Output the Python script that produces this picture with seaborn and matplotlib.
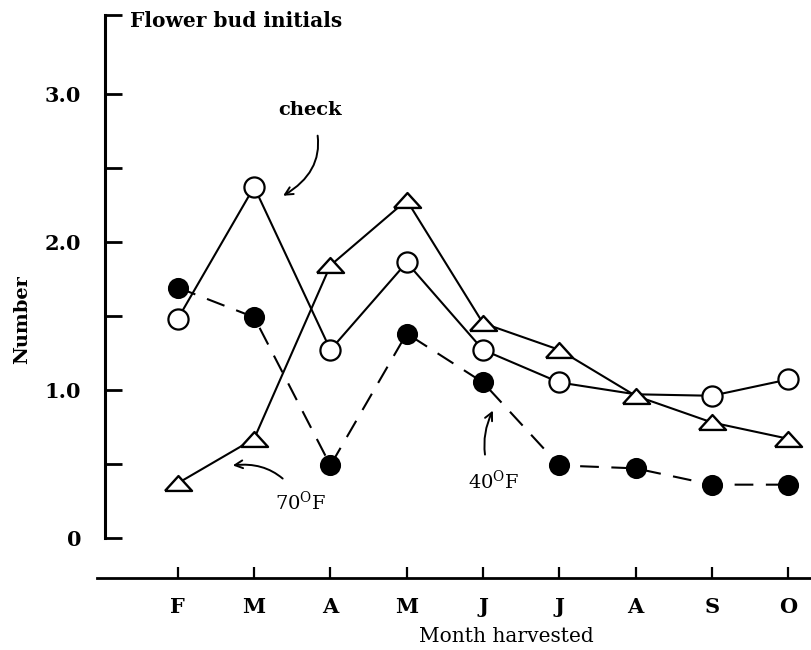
import matplotlib
matplotlib.use("Agg")
import matplotlib.pyplot as plt
import numpy as np
import pandas as pd
import seaborn as sns

# month harvested (Feb .. Oct) and the letters printed under the axis
months = ["Feb", "Mar", "Apr", "May", "Jun", "Jul", "Aug", "Sep", "Oct"]
month_letters = ["F", "M", "A", "M", "J", "J", "A", "S", "O"]

# number of flower bud initials
check = [1.48, 2.37, 1.27, 1.86, 1.27, 1.05, 0.97, 0.96, 1.07]
temp_70f = [0.37, 0.67, 1.84, 2.28, 1.45, 1.27, 0.96, 0.78, 0.67]
temp_40f = [1.69, 1.49, 0.49, 1.38, 1.05, 0.49, 0.47, 0.36, 0.36]

y_ticks = [0, 1, 2, 3]
y_tick_labels = ["0", "1.0", "2.0", "3.0"]

sns.set_theme(style="ticks")
plt.rcParams["font.family"] = ["DejaVu Serif"]
plt.rcParams["mathtext.fontset"] = "dejavuserif"
for key in ["text.color", "axes.labelcolor", "xtick.color", "ytick.color",
            "axes.edgecolor"]:
    plt.rcParams[key] = "black"

pos = np.arange(len(months))
df = pd.DataFrame({"month": months, "pos": pos, "check": check,
                   "70F": temp_70f, "40F": temp_40f})

fig = plt.figure(figsize=(8.11, 6.5), dpi=100)
ax = fig.add_axes([97 / 811, 72 / 650, 714 / 811, 563 / 650])

# flattened triangle like the hand-drawn one
tri = [(-1, -0.55), (1, -0.55), (0, 0.55), (-1, -0.55)]

sns.lineplot(data=df, x="pos", y="40F", ax=ax, color="black", lw=1.5,
             linestyle=(0, (9, 6)), marker="o", markersize=14,
             markerfacecolor="black", markeredgecolor="black", markeredgewidth=1.2)
# the Aug check point sits under the 70F triangle, so no circle there
sns.lineplot(data=df, x="pos", y="check", ax=ax, color="black", lw=1.5,
             marker="o", markersize=14.5, markerfacecolor="white",
             markeredgecolor="black", markeredgewidth=1.6,
             markevery=[0, 1, 2, 3, 4, 5, 7, 8])
sns.lineplot(data=df, x="pos", y="70F", ax=ax, color="black", lw=1.5,
             marker=tri, markersize=19.5, markerfacecolor="white",
             markeredgecolor="black", markeredgewidth=1.7)

ax.set_xlim(-1.06, 8.30)
ax.set_ylim(-0.27, 3.53)

for s in ["top", "right"]:
    ax.spines[s].set_visible(False)
ax.spines["left"].set_position(("data", -0.957))
ax.spines["left"].set_bounds(0, 3.53)
ax.spines["left"].set_linewidth(2.2)
ax.spines["bottom"].set_linewidth(2.0)

ax.set_yticks(y_ticks)
ax.set_yticklabels(y_tick_labels, fontsize=15, fontweight="bold")
ax.set_yticks([0.5, 1.5, 2.5, 3.53], minor=True)
ax.tick_params(axis="y", which="both", direction="in", length=12, width=2,
               pad=17)

ax.set_xticks(pos)
ax.set_xticklabels(month_letters, fontsize=15, fontweight="bold")
ax.tick_params(axis="x", direction="in", length=8, width=1.6, pad=14)

ax.set_xlabel("")
ax.set_ylabel("")
fig.text(506 / 811, 1 - 636 / 650, "Month harvested", fontsize=14.5,
         ha="center", va="center")
fig.text(22 / 811, 1 - 320 / 650, "Number", rotation=90, fontsize=14,
         fontweight="bold", ha="center", va="center")
ax.text(-0.63, 3.49, "Flower bud initials", fontsize=14.5, fontweight="bold",
        ha="left", va="center")

arrow = dict(arrowstyle="->", color="black", lw=1.4)
ax.annotate("check", xy=(1.38, 2.31), xytext=(1.73, 2.89), fontsize=14,
            fontweight="bold", ha="center", va="center",
            arrowprops=dict(arrow, connectionstyle="arc3,rad=-0.45",
                            shrinkA=10, shrinkB=0))
ax.annotate("70$^{\\mathrm{O}}$F", xy=(0.72, 0.49), xytext=(1.61, 0.24),
            fontsize=14, ha="center", va="center",
            arrowprops=dict(arrow, connectionstyle="arc3,rad=0.35", shrinkA=9,
                            shrinkB=0))
ax.annotate("40$^{\\mathrm{O}}$F", xy=(4.13, 0.86), xytext=(4.14, 0.38),
            fontsize=14, ha="center", va="center",
            arrowprops=dict(arrow, connectionstyle="arc3,rad=-0.25", shrinkA=9,
                            shrinkB=0))

fig.savefig("out.png", dpi=100)
